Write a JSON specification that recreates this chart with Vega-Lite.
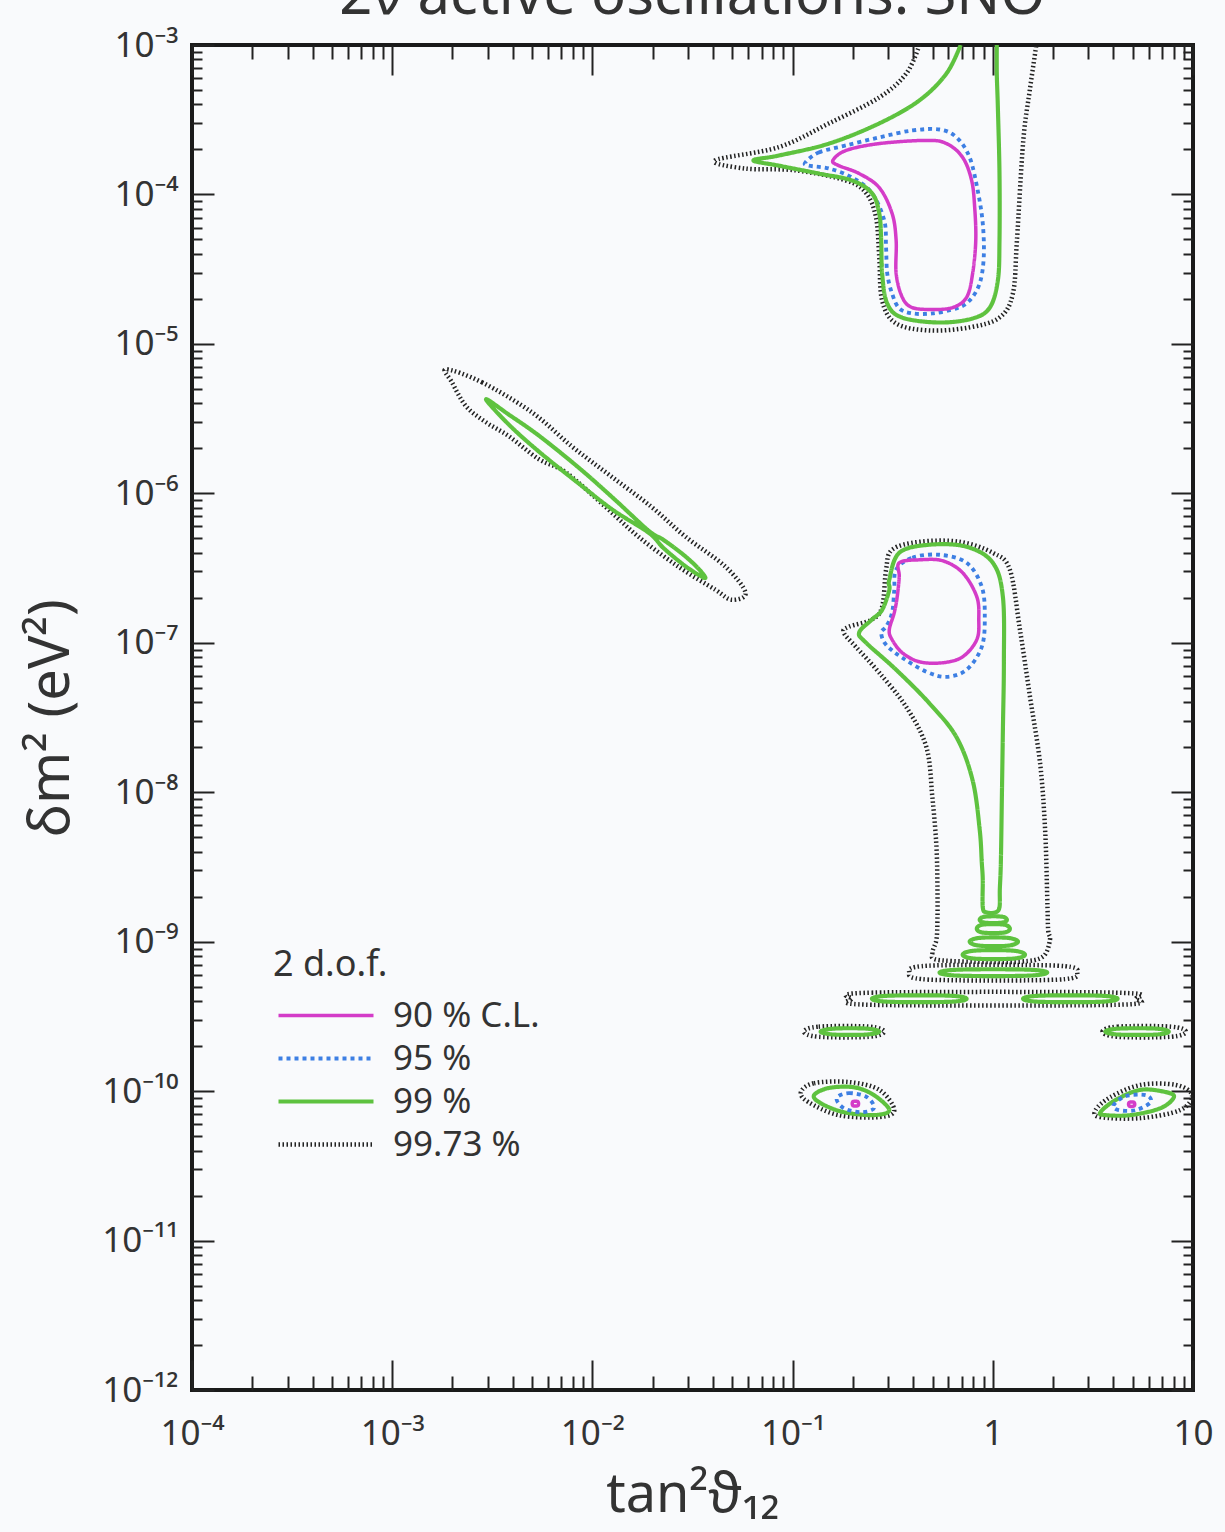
{
  "$schema": "https://vega.github.io/schema/vega-lite/v6.json",
  "width": 1001,
  "height": 1345,
  "autosize": {"type": "none"},
  "padding": {"left": 192, "top": 45, "right": 32, "bottom": 142},
  "background": "#f9fafc",
  "title": {"text": "2ν active oscillations: SNO", "fontSize": 58, "font": "Noto Sans", "fontWeight": "normal", "color": "#333333", "baseline": "alphabetic", "offset": -44, "anchor": "middle", "frame": "group"},
  "config": {"view": {"stroke": "#1a1a1a", "strokeWidth": 4}, "font": "Noto Sans"},
  "datasets": {
    "loops": [
      {"c":"k_mid","l":"99.73 %","o":1,"x":0.314,"y":4.19e-7},
      {"c":"k_mid","l":"99.73 %","o":2,"x":0.430,"y":4.74e-7},
      {"c":"k_mid","l":"99.73 %","o":3,"x":0.682,"y":4.74e-7},
      {"c":"k_mid","l":"99.73 %","o":4,"x":1.0,"y":4.00e-7},
      {"c":"k_mid","l":"99.73 %","o":5,"x":1.217,"y":3.08e-7},
      {"c":"k_mid","l":"99.73 %","o":6,"x":1.367,"y":1.22e-7},
      {"c":"k_mid","l":"99.73 %","o":7,"x":1.534,"y":4.35e-8},
      {"c":"k_mid","l":"99.73 %","o":8,"x":1.723,"y":1.56e-8},
      {"c":"k_mid","l":"99.73 %","o":9,"x":1.825,"y":5.62e-9},
      {"c":"k_mid","l":"99.73 %","o":10,"x":1.87,"y":2.00e-9},
      {"c":"k_mid","l":"99.73 %","o":11,"x":1.89,"y":1.20e-9},
      {"c":"k_mid","l":"99.73 %","o":12,"x":1.93,"y":1.03e-9},
      {"c":"k_mid","l":"99.73 %","o":13,"x":1.78,"y":7.94e-10},
      {"c":"k_mid","l":"99.73 %","o":14,"x":1.37,"y":7.35e-10},
      {"c":"k_mid","l":"99.73 %","o":15,"x":0.80,"y":7.35e-10},
      {"c":"k_mid","l":"99.73 %","o":16,"x":0.523,"y":7.58e-10},
      {"c":"k_mid","l":"99.73 %","o":17,"x":0.499,"y":8.44e-10},
      {"c":"k_mid","l":"99.73 %","o":18,"x":0.523,"y":1.03e-9},
      {"c":"k_mid","l":"99.73 %","o":19,"x":0.529,"y":1.40e-9},
      {"c":"k_mid","l":"99.73 %","o":20,"x":0.529,"y":2.23e-9},
      {"c":"k_mid","l":"99.73 %","o":21,"x":0.523,"y":4.32e-9},
      {"c":"k_mid","l":"99.73 %","o":22,"x":0.499,"y":9.26e-9},
      {"c":"k_mid","l":"99.73 %","o":23,"x":0.466,"y":2.00e-8},
      {"c":"k_mid","l":"99.73 %","o":24,"x":0.370,"y":3.71e-8},
      {"c":"k_mid","l":"99.73 %","o":25,"x":0.271,"y":6.30e-8},
      {"c":"k_mid","l":"99.73 %","o":26,"x":0.207,"y":9.40e-8},
      {"c":"k_mid","l":"99.73 %","o":27,"x":0.180,"y":1.17e-7},
      {"c":"k_mid","l":"99.73 %","o":28,"x":0.191,"y":1.28e-7},
      {"c":"k_mid","l":"99.73 %","o":29,"x":0.249,"y":1.43e-7},
      {"c":"k_mid","l":"99.73 %","o":30,"x":0.280,"y":1.74e-7},
      {"c":"k_mid","l":"99.73 %","o":31,"x":0.293,"y":3.08e-7},

      {"c":"k_low","l":"99.73 %","o":1,"x":1.86e-3,"y":6.76e-6},
      {"c":"k_low","l":"99.73 %","o":2,"x":2.81e-3,"y":5.53e-6},
      {"c":"k_low","l":"99.73 %","o":3,"x":4.99e-3,"y":3.48e-6},
      {"c":"k_low","l":"99.73 %","o":4,"x":7.90e-3,"y":2.06e-6},
      {"c":"k_low","l":"99.73 %","o":5,"x":1.24e-2,"y":1.30e-6},
      {"c":"k_low","l":"99.73 %","o":6,"x":1.97e-2,"y":8.13e-7},
      {"c":"k_low","l":"99.73 %","o":7,"x":2.92e-2,"y":5.12e-7},
      {"c":"k_low","l":"99.73 %","o":8,"x":4.62e-2,"y":3.23e-7},
      {"c":"k_low","l":"99.73 %","o":9,"x":5.82e-2,"y":2.16e-7},
      {"c":"k_low","l":"99.73 %","o":10,"x":4.95e-2,"y":1.94e-7},
      {"c":"k_low","l":"99.73 %","o":11,"x":4.12e-2,"y":2.26e-7},
      {"c":"k_low","l":"99.73 %","o":12,"x":2.69e-2,"y":3.23e-7},
      {"c":"k_low","l":"99.73 %","o":13,"x":1.70e-2,"y":5.12e-7},
      {"c":"k_low","l":"99.73 %","o":14,"x":1.16e-2,"y":8.13e-7},
      {"c":"k_low","l":"99.73 %","o":15,"x":7.38e-3,"y":1.38e-6},
      {"c":"k_low","l":"99.73 %","o":16,"x":5.41e-3,"y":1.69e-6},
      {"c":"k_low","l":"99.73 %","o":17,"x":3.83e-3,"y":2.41e-6},
      {"c":"k_low","l":"99.73 %","o":18,"x":2.94e-3,"y":2.99e-6},
      {"c":"k_low","l":"99.73 %","o":19,"x":2.34e-3,"y":3.82e-6},
      {"c":"k_low","l":"99.73 %","o":20,"x":1.99e-3,"y":5.53e-6},

      {"c":"k_b1","l":"99.73 %","o":1,"x":0.383,"y":6.21e-10},
      {"c":"k_b1","l":"99.73 %","o":2,"x":0.482,"y":6.91e-10},
      {"c":"k_b1","l":"99.73 %","o":3,"x":2.10,"y":6.91e-10},
      {"c":"k_b1","l":"99.73 %","o":4,"x":2.64,"y":6.21e-10},
      {"c":"k_b1","l":"99.73 %","o":5,"x":2.10,"y":5.57e-10},
      {"c":"k_b1","l":"99.73 %","o":6,"x":0.482,"y":5.57e-10},

      {"c":"k_b2","l":"99.73 %","o":1,"x":0.198,"y":4.15e-10},
      {"c":"k_b2","l":"99.73 %","o":2,"x":0.249,"y":4.56e-10},
      {"c":"k_b2","l":"99.73 %","o":3,"x":4.10,"y":4.56e-10},
      {"c":"k_b2","l":"99.73 %","o":4,"x":5.17,"y":4.15e-10},
      {"c":"k_b2","l":"99.73 %","o":5,"x":4.10,"y":3.78e-10},
      {"c":"k_b2","l":"99.73 %","o":6,"x":0.249,"y":3.78e-10},

      {"c":"k_b3l","l":"99.73 %","o":1,"x":0.114,"y":2.50e-10},
      {"c":"k_b3l","l":"99.73 %","o":2,"x":0.135,"y":2.70e-10},
      {"c":"k_b3l","l":"99.73 %","o":3,"x":0.241,"y":2.70e-10},
      {"c":"k_b3l","l":"99.73 %","o":4,"x":0.287,"y":2.50e-10},
      {"c":"k_b3l","l":"99.73 %","o":5,"x":0.241,"y":2.31e-10},
      {"c":"k_b3l","l":"99.73 %","o":6,"x":0.135,"y":2.31e-10},

      {"c":"k_b3r","l":"99.73 %","o":1,"x":3.53,"y":2.50e-10},
      {"c":"k_b3r","l":"99.73 %","o":2,"x":4.20,"y":2.70e-10},
      {"c":"k_b3r","l":"99.73 %","o":3,"x":7.75,"y":2.70e-10},
      {"c":"k_b3r","l":"99.73 %","o":4,"x":9.22,"y":2.50e-10},
      {"c":"k_b3r","l":"99.73 %","o":5,"x":7.75,"y":2.31e-10},
      {"c":"k_b3r","l":"99.73 %","o":6,"x":4.20,"y":2.31e-10},

      {"c":"k_b4l","l":"99.73 %","o":1,"x":0.110,"y":9.85e-11},
      {"c":"k_b4l","l":"99.73 %","o":2,"x":0.128,"y":1.13e-10},
      {"c":"k_b4l","l":"99.73 %","o":3,"x":0.191,"y":1.15e-10},
      {"c":"k_b4l","l":"99.73 %","o":4,"x":0.271,"y":1.02e-10},
      {"c":"k_b4l","l":"99.73 %","o":5,"x":0.322,"y":7.46e-11},
      {"c":"k_b4l","l":"99.73 %","o":6,"x":0.271,"y":6.70e-11},
      {"c":"k_b4l","l":"99.73 %","o":7,"x":0.170,"y":6.91e-11},
      {"c":"k_b4l","l":"99.73 %","o":8,"x":0.120,"y":8.44e-11},

      {"c":"k_b4r","l":"99.73 %","o":1,"x":3.26,"y":7.46e-11},
      {"c":"k_b4r","l":"99.73 %","o":2,"x":3.87,"y":9.12e-11},
      {"c":"k_b4r","l":"99.73 %","o":3,"x":5.48,"y":1.10e-10},
      {"c":"k_b4r","l":"99.73 %","o":4,"x":8.22,"y":1.10e-10},
      {"c":"k_b4r","l":"99.73 %","o":5,"x":9.89,"y":9.40e-11},
      {"c":"k_b4r","l":"99.73 %","o":6,"x":8.61,"y":7.46e-11},
      {"c":"k_b4r","l":"99.73 %","o":7,"x":5.48,"y":6.60e-11},
      {"c":"k_b4r","l":"99.73 %","o":8,"x":3.45,"y":6.70e-11},

      {"c":"g_mid","l":"99 %","o":1,"x":0.304,"y":2.64e-7},
      {"c":"g_mid","l":"99 %","o":2,"x":0.341,"y":4.00e-7},
      {"c":"g_mid","l":"99 %","o":3,"x":0.482,"y":4.53e-7},
      {"c":"g_mid","l":"99 %","o":4,"x":0.740,"y":4.39e-7},
      {"c":"g_mid","l":"99 %","o":5,"x":1.0,"y":3.43e-7},
      {"c":"g_mid","l":"99 %","o":6,"x":1.123,"y":2.03e-7},
      {"c":"g_mid","l":"99 %","o":7,"x":1.136,"y":7.35e-8},
      {"c":"g_mid","l":"99 %","o":8,"x":1.123,"y":2.60e-8},
      {"c":"g_mid","l":"99 %","o":9,"x":1.110,"y":9.26e-9},
      {"c":"g_mid","l":"99 %","o":10,"x":1.097,"y":3.38e-9},
      {"c":"g_mid","l":"99 %","o":11,"x":1.084,"y":2.23e-9},
      {"c":"g_mid","l":"99 %","o":12,"x":1.08,"y":1.70e-9},
      {"c":"g_mid","l":"99 %","o":13,"x":1.03,"y":1.57e-9},
      {"c":"g_mid","l":"99 %","o":14,"x":0.93,"y":1.57e-9},
      {"c":"g_mid","l":"99 %","o":15,"x":0.891,"y":1.70e-9},
      {"c":"g_mid","l":"99 %","o":16,"x":0.891,"y":2.60e-9},
      {"c":"g_mid","l":"99 %","o":17,"x":0.881,"y":3.38e-9},
      {"c":"g_mid","l":"99 %","o":18,"x":0.860,"y":5.62e-9},
      {"c":"g_mid","l":"99 %","o":19,"x":0.793,"y":1.20e-8},
      {"c":"g_mid","l":"99 %","o":20,"x":0.659,"y":2.33e-8},
      {"c":"g_mid","l":"99 %","o":21,"x":0.482,"y":3.94e-8},
      {"c":"g_mid","l":"99 %","o":22,"x":0.329,"y":6.60e-8},
      {"c":"g_mid","l":"99 %","o":23,"x":0.233,"y":1.00e-7},
      {"c":"g_mid","l":"99 %","o":24,"x":0.215,"y":1.17e-7},
      {"c":"g_mid","l":"99 %","o":25,"x":0.249,"y":1.43e-7},
      {"c":"g_mid","l":"99 %","o":26,"x":0.280,"y":1.66e-7},
      {"c":"g_mid","l":"99 %","o":27,"x":0.304,"y":2.26e-7},

      {"c":"g_low","l":"99 %","o":1,"x":2.94e-3,"y":4.26e-6},
      {"c":"g_low","l":"99 %","o":2,"x":3.83e-3,"y":3.36e-6},
      {"c":"g_low","l":"99 %","o":3,"x":5.41e-3,"y":2.43e-6},
      {"c":"g_low","l":"99 %","o":4,"x":8.57e-3,"y":1.48e-6},
      {"c":"g_low","l":"99 %","o":5,"x":1.27e-2,"y":9.29e-7},
      {"c":"g_low","l":"99 %","o":6,"x":1.91e-2,"y":5.62e-7},
      {"c":"g_low","l":"99 %","o":7,"x":2.26e-2,"y":4.89e-7},
      {"c":"g_low","l":"99 %","o":8,"x":2.85e-2,"y":3.88e-7},
      {"c":"g_low","l":"99 %","o":9,"x":3.39e-2,"y":3.13e-7},
      {"c":"g_low","l":"99 %","o":10,"x":3.67e-2,"y":2.72e-7},
      {"c":"g_low","l":"99 %","o":11,"x":3.39e-2,"y":2.85e-7},
      {"c":"g_low","l":"99 %","o":12,"x":2.85e-2,"y":3.33e-7},
      {"c":"g_low","l":"99 %","o":13,"x":2.26e-2,"y":4.32e-7},
      {"c":"g_low","l":"99 %","o":14,"x":1.91e-2,"y":5.45e-7},
      {"c":"g_low","l":"99 %","o":15,"x":1.27e-2,"y":7.72e-7},
      {"c":"g_low","l":"99 %","o":16,"x":8.57e-3,"y":1.16e-6},
      {"c":"g_low","l":"99 %","o":17,"x":5.41e-3,"y":1.90e-6},
      {"c":"g_low","l":"99 %","o":18,"x":3.83e-3,"y":2.88e-6},

      {"c":"g_e1","l":"99 %","o":1,"x":0.860,"y":1.40e-9},
      {"c":"g_e1","l":"99 %","o":2,"x":0.912,"y":1.47e-9},
      {"c":"g_e1","l":"99 %","o":3,"x":1.110,"y":1.47e-9},
      {"c":"g_e1","l":"99 %","o":4,"x":1.176,"y":1.40e-9},
      {"c":"g_e1","l":"99 %","o":5,"x":1.110,"y":1.34e-9},
      {"c":"g_e1","l":"99 %","o":6,"x":0.912,"y":1.34e-9},

      {"c":"g_e2","l":"99 %","o":1,"x":0.832,"y":1.22e-9},
      {"c":"g_e2","l":"99 %","o":2,"x":0.891,"y":1.30e-9},
      {"c":"g_e2","l":"99 %","o":3,"x":1.136,"y":1.30e-9},
      {"c":"g_e2","l":"99 %","o":4,"x":1.217,"y":1.22e-9},
      {"c":"g_e2","l":"99 %","o":5,"x":1.136,"y":1.15e-9},
      {"c":"g_e2","l":"99 %","o":6,"x":0.891,"y":1.15e-9},

      {"c":"g_e3","l":"99 %","o":1,"x":0.766,"y":1.0e-9},
      {"c":"g_e3","l":"99 %","o":2,"x":0.860,"y":1.06e-9},
      {"c":"g_e3","l":"99 %","o":3,"x":1.19,"y":1.06e-9},
      {"c":"g_e3","l":"99 %","o":4,"x":1.336,"y":1.0e-9},
      {"c":"g_e3","l":"99 %","o":5,"x":1.19,"y":9.40e-10},
      {"c":"g_e3","l":"99 %","o":6,"x":0.860,"y":9.40e-10},

      {"c":"g_e4","l":"99 %","o":1,"x":0.707,"y":8.18e-10},
      {"c":"g_e4","l":"99 %","o":2,"x":0.812,"y":8.71e-10},
      {"c":"g_e4","l":"99 %","o":3,"x":1.26,"y":8.71e-10},
      {"c":"g_e4","l":"99 %","o":4,"x":1.448,"y":8.18e-10},
      {"c":"g_e4","l":"99 %","o":5,"x":1.26,"y":7.70e-10},
      {"c":"g_e4","l":"99 %","o":6,"x":0.812,"y":7.70e-10},

      {"c":"g_b1","l":"99 %","o":1,"x":0.542,"y":6.21e-10},
      {"c":"g_b1","l":"99 %","o":2,"x":0.682,"y":6.50e-10},
      {"c":"g_b1","l":"99 %","o":3,"x":1.48,"y":6.50e-10},
      {"c":"g_b1","l":"99 %","o":4,"x":1.87,"y":6.21e-10},
      {"c":"g_b1","l":"99 %","o":5,"x":1.48,"y":5.92e-10},
      {"c":"g_b1","l":"99 %","o":6,"x":0.682,"y":5.92e-10},

      {"c":"g_b2l","l":"99 %","o":1,"x":0.249,"y":4.15e-10},
      {"c":"g_b2l","l":"99 %","o":2,"x":0.304,"y":4.35e-10},
      {"c":"g_b2l","l":"99 %","o":3,"x":0.608,"y":4.35e-10},
      {"c":"g_b2l","l":"99 %","o":4,"x":0.740,"y":4.15e-10},
      {"c":"g_b2l","l":"99 %","o":5,"x":0.608,"y":3.96e-10},
      {"c":"g_b2l","l":"99 %","o":6,"x":0.304,"y":3.96e-10},

      {"c":"g_b2r","l":"99 %","o":1,"x":1.416,"y":4.15e-10},
      {"c":"g_b2r","l":"99 %","o":2,"x":1.72,"y":4.35e-10},
      {"c":"g_b2r","l":"99 %","o":3,"x":3.45,"y":4.35e-10},
      {"c":"g_b2r","l":"99 %","o":4,"x":4.20,"y":4.15e-10},
      {"c":"g_b2r","l":"99 %","o":5,"x":3.45,"y":3.96e-10},
      {"c":"g_b2r","l":"99 %","o":6,"x":1.72,"y":3.96e-10},

      {"c":"g_b3l","l":"99 %","o":1,"x":0.138,"y":2.50e-10},
      {"c":"g_b3l","l":"99 %","o":2,"x":0.161,"y":2.62e-10},
      {"c":"g_b3l","l":"99 %","o":3,"x":0.233,"y":2.62e-10},
      {"c":"g_b3l","l":"99 %","o":4,"x":0.271,"y":2.50e-10},
      {"c":"g_b3l","l":"99 %","o":5,"x":0.233,"y":2.39e-10},
      {"c":"g_b3l","l":"99 %","o":6,"x":0.161,"y":2.39e-10},

      {"c":"g_b3r","l":"99 %","o":1,"x":3.65,"y":2.50e-10},
      {"c":"g_b3r","l":"99 %","o":2,"x":4.25,"y":2.62e-10},
      {"c":"g_b3r","l":"99 %","o":3,"x":6.52,"y":2.62e-10},
      {"c":"g_b3r","l":"99 %","o":4,"x":7.57,"y":2.50e-10},
      {"c":"g_b3r","l":"99 %","o":5,"x":6.52,"y":2.39e-10},
      {"c":"g_b3r","l":"99 %","o":6,"x":4.25,"y":2.39e-10},

      {"c":"g_b4l","l":"99 %","o":1,"x":0.128,"y":9.40e-11},
      {"c":"g_b4l","l":"99 %","o":2,"x":0.152,"y":1.05e-10},
      {"c":"g_b4l","l":"99 %","o":3,"x":0.203,"y":1.06e-10},
      {"c":"g_b4l","l":"99 %","o":4,"x":0.255,"y":9.40e-11},
      {"c":"g_b4l","l":"99 %","o":5,"x":0.304,"y":7.46e-11},
      {"c":"g_b4l","l":"99 %","o":6,"x":0.255,"y":6.91e-11},
      {"c":"g_b4l","l":"99 %","o":7,"x":0.180,"y":7.23e-11},
      {"c":"g_b4l","l":"99 %","o":8,"x":0.138,"y":8.31e-11},

      {"c":"g_b4r","l":"99 %","o":1,"x":3.45,"y":7.23e-11},
      {"c":"g_b4r","l":"99 %","o":2,"x":4.10,"y":8.71e-11},
      {"c":"g_b4r","l":"99 %","o":3,"x":5.48,"y":1.02e-10},
      {"c":"g_b4r","l":"99 %","o":4,"x":7.32,"y":9.85e-11},
      {"c":"g_b4r","l":"99 %","o":5,"x":8.03,"y":9.12e-11},
      {"c":"g_b4r","l":"99 %","o":6,"x":6.90,"y":7.70e-11},
      {"c":"g_b4r","l":"99 %","o":7,"x":4.88,"y":6.91e-11},
      {"c":"g_b4r","l":"99 %","o":8,"x":3.65,"y":6.91e-11},

      {"c":"b_top","l":"95 %","o":1,"x":0.116,"y":1.64e-4},
      {"c":"b_top","l":"95 %","o":2,"x":0.135,"y":1.91e-4},
      {"c":"b_top","l":"95 %","o":3,"x":0.185,"y":2.13e-4},
      {"c":"b_top","l":"95 %","o":4,"x":0.271,"y":2.41e-4},
      {"c":"b_top","l":"95 %","o":5,"x":0.396,"y":2.68e-4},
      {"c":"b_top","l":"95 %","o":6,"x":0.542,"y":2.72e-4},
      {"c":"b_top","l":"95 %","o":7,"x":0.659,"y":2.41e-4},
      {"c":"b_top","l":"95 %","o":8,"x":0.766,"y":1.77e-4},
      {"c":"b_top","l":"95 %","o":9,"x":0.841,"y":1.06e-4},
      {"c":"b_top","l":"95 %","o":10,"x":0.891,"y":6.40e-5},
      {"c":"b_top","l":"95 %","o":11,"x":0.901,"y":3.79e-5},
      {"c":"b_top","l":"95 %","o":12,"x":0.860,"y":2.54e-5},
      {"c":"b_top","l":"95 %","o":13,"x":0.766,"y":1.95e-5},
      {"c":"b_top","l":"95 %","o":14,"x":0.659,"y":1.73e-5},
      {"c":"b_top","l":"95 %","o":15,"x":0.499,"y":1.60e-5},
      {"c":"b_top","l":"95 %","o":16,"x":0.396,"y":1.60e-5},
      {"c":"b_top","l":"95 %","o":17,"x":0.341,"y":1.73e-5},
      {"c":"b_top","l":"95 %","o":18,"x":0.314,"y":2.17e-5},
      {"c":"b_top","l":"95 %","o":19,"x":0.297,"y":2.96e-5},
      {"c":"b_top","l":"95 %","o":20,"x":0.293,"y":4.42e-5},
      {"c":"b_top","l":"95 %","o":21,"x":0.287,"y":6.70e-5},
      {"c":"b_top","l":"95 %","o":22,"x":0.249,"y":1.02e-4},
      {"c":"b_top","l":"95 %","o":23,"x":0.198,"y":1.30e-4},
      {"c":"b_top","l":"95 %","o":24,"x":0.152,"y":1.49e-4},
      {"c":"b_top","l":"95 %","o":25,"x":0.120,"y":1.56e-4},

      {"c":"b_mid","l":"95 %","o":1,"x":0.329,"y":3.08e-7},
      {"c":"b_mid","l":"95 %","o":2,"x":0.396,"y":3.71e-7},
      {"c":"b_mid","l":"95 %","o":3,"x":0.542,"y":3.88e-7},
      {"c":"b_mid","l":"95 %","o":4,"x":0.740,"y":3.43e-7},
      {"c":"b_mid","l":"95 %","o":5,"x":0.881,"y":2.37e-7},
      {"c":"b_mid","l":"95 %","o":6,"x":0.912,"y":1.49e-7},
      {"c":"b_mid","l":"95 %","o":7,"x":0.881,"y":9.40e-8},
      {"c":"b_mid","l":"95 %","o":8,"x":0.740,"y":6.60e-8},
      {"c":"b_mid","l":"95 %","o":9,"x":0.587,"y":5.92e-8},
      {"c":"b_mid","l":"95 %","o":10,"x":0.466,"y":6.40e-8},
      {"c":"b_mid","l":"95 %","o":11,"x":0.353,"y":7.94e-8},
      {"c":"b_mid","l":"95 %","o":12,"x":0.293,"y":9.70e-8},
      {"c":"b_mid","l":"95 %","o":13,"x":0.277,"y":1.17e-7},
      {"c":"b_mid","l":"95 %","o":14,"x":0.293,"y":1.28e-7},
      {"c":"b_mid","l":"95 %","o":15,"x":0.314,"y":1.59e-7},
      {"c":"b_mid","l":"95 %","o":16,"x":0.322,"y":2.26e-7},

      {"c":"b_b4l","l":"95 %","o":1,"x":0.166,"y":8.98e-11},
      {"c":"b_b4l","l":"95 %","o":2,"x":0.191,"y":9.70e-11},
      {"c":"b_b4l","l":"95 %","o":3,"x":0.235,"y":9.12e-11},
      {"c":"b_b4l","l":"95 %","o":4,"x":0.255,"y":7.70e-11},
      {"c":"b_b4l","l":"95 %","o":5,"x":0.220,"y":7.23e-11},
      {"c":"b_b4l","l":"95 %","o":6,"x":0.180,"y":7.70e-11},

      {"c":"b_b4r","l":"95 %","o":1,"x":4.01,"y":8.06e-11},
      {"c":"b_b4r","l":"95 %","o":2,"x":4.61,"y":9.26e-11},
      {"c":"b_b4r","l":"95 %","o":3,"x":5.81,"y":9.40e-11},
      {"c":"b_b4r","l":"95 %","o":4,"x":6.15,"y":8.44e-11},
      {"c":"b_b4r","l":"95 %","o":5,"x":5.17,"y":7.46e-11},
      {"c":"b_b4r","l":"95 %","o":6,"x":4.25,"y":7.46e-11},

      {"c":"m_top","l":"90 %  C.L.","o":1,"x":0.159,"y":1.69e-4},
      {"c":"m_top","l":"90 %  C.L.","o":2,"x":0.185,"y":1.97e-4},
      {"c":"m_top","l":"90 %  C.L.","o":3,"x":0.271,"y":2.19e-4},
      {"c":"m_top","l":"90 %  C.L.","o":4,"x":0.466,"y":2.30e-4},
      {"c":"m_top","l":"90 %  C.L.","o":5,"x":0.587,"y":2.19e-4},
      {"c":"m_top","l":"90 %  C.L.","o":6,"x":0.707,"y":1.77e-4},
      {"c":"m_top","l":"90 %  C.L.","o":7,"x":0.784,"y":1.24e-4},
      {"c":"m_top","l":"90 %  C.L.","o":8,"x":0.812,"y":8.18e-5},
      {"c":"m_top","l":"90 %  C.L.","o":9,"x":0.822,"y":4.92e-5},
      {"c":"m_top","l":"90 %  C.L.","o":10,"x":0.793,"y":2.96e-5},
      {"c":"m_top","l":"90 %  C.L.","o":11,"x":0.740,"y":2.05e-5},
      {"c":"m_top","l":"90 %  C.L.","o":12,"x":0.630,"y":1.75e-5},
      {"c":"m_top","l":"90 %  C.L.","o":13,"x":0.499,"y":1.70e-5},
      {"c":"m_top","l":"90 %  C.L.","o":14,"x":0.396,"y":1.75e-5},
      {"c":"m_top","l":"90 %  C.L.","o":15,"x":0.353,"y":2.05e-5},
      {"c":"m_top","l":"90 %  C.L.","o":16,"x":0.329,"y":2.96e-5},
      {"c":"m_top","l":"90 %  C.L.","o":17,"x":0.329,"y":4.92e-5},
      {"c":"m_top","l":"90 %  C.L.","o":18,"x":0.314,"y":7.46e-5},
      {"c":"m_top","l":"90 %  C.L.","o":19,"x":0.271,"y":1.11e-4},
      {"c":"m_top","l":"90 %  C.L.","o":20,"x":0.215,"y":1.38e-4},
      {"c":"m_top","l":"90 %  C.L.","o":21,"x":0.170,"y":1.56e-4},

      {"c":"m_mid","l":"90 %  C.L.","o":1,"x":0.341,"y":3.43e-7},
      {"c":"m_mid","l":"90 %  C.L.","o":2,"x":0.430,"y":3.59e-7},
      {"c":"m_mid","l":"90 %  C.L.","o":3,"x":0.561,"y":3.54e-7},
      {"c":"m_mid","l":"90 %  C.L.","o":4,"x":0.707,"y":2.94e-7},
      {"c":"m_mid","l":"90 %  C.L.","o":5,"x":0.832,"y":2.03e-7},
      {"c":"m_mid","l":"90 %  C.L.","o":6,"x":0.851,"y":1.43e-7},
      {"c":"m_mid","l":"90 %  C.L.","o":7,"x":0.832,"y":1.05e-7},
      {"c":"m_mid","l":"90 %  C.L.","o":8,"x":0.707,"y":8.06e-8},
      {"c":"m_mid","l":"90 %  C.L.","o":9,"x":0.561,"y":7.35e-8},
      {"c":"m_mid","l":"90 %  C.L.","o":10,"x":0.430,"y":7.46e-8},
      {"c":"m_mid","l":"90 %  C.L.","o":11,"x":0.353,"y":8.57e-8},
      {"c":"m_mid","l":"90 %  C.L.","o":12,"x":0.314,"y":1.05e-7},
      {"c":"m_mid","l":"90 %  C.L.","o":13,"x":0.304,"y":1.22e-7},
      {"c":"m_mid","l":"90 %  C.L.","o":14,"x":0.322,"y":1.59e-7},
      {"c":"m_mid","l":"90 %  C.L.","o":15,"x":0.333,"y":2.03e-7},
      {"c":"m_mid","l":"90 %  C.L.","o":16,"x":0.341,"y":2.77e-7},

      {"c":"m_b4l","l":"90 %  C.L.","o":1,"x":0.200,"y":8.5e-11},
      {"c":"m_b4l","l":"90 %  C.L.","o":2,"x":0.212,"y":8.5e-11},
      {"c":"m_b4l","l":"90 %  C.L.","o":3,"x":0.212,"y":8.0e-11},
      {"c":"m_b4l","l":"90 %  C.L.","o":4,"x":0.200,"y":8.0e-11},

      {"c":"m_b4r","l":"90 %  C.L.","o":1,"x":4.80,"y":8.4e-11},
      {"c":"m_b4r","l":"90 %  C.L.","o":2,"x":5.08,"y":8.4e-11},
      {"c":"m_b4r","l":"90 %  C.L.","o":3,"x":5.08,"y":7.95e-11},
      {"c":"m_b4r","l":"90 %  C.L.","o":4,"x":4.80,"y":7.95e-11}
    ],
    "open": [
      {"c":"k_top","l":"99.73 %","o":1,"x":0.43,"y":1e-3},
      {"c":"k_top","l":"99.73 %","o":2,"x":0.370,"y":6.45e-4},
      {"c":"k_top","l":"99.73 %","o":3,"x":0.271,"y":4.46e-4},
      {"c":"k_top","l":"99.73 %","o":4,"x":0.152,"y":2.99e-4},
      {"c":"k_top","l":"99.73 %","o":5,"x":0.0851,"y":2.07e-4},
      {"c":"k_top","l":"99.73 %","o":6,"x":0.0410,"y":1.69e-4},
      {"c":"k_top","l":"99.73 %","o":7,"x":0.0581,"y":1.49e-4},
      {"c":"k_top","l":"99.73 %","o":8,"x":0.1035,"y":1.45e-4},
      {"c":"k_top","l":"99.73 %","o":9,"x":0.185,"y":1.24e-4},
      {"c":"k_top","l":"99.73 %","o":10,"x":0.233,"y":1.02e-4},
      {"c":"k_top","l":"99.73 %","o":11,"x":0.261,"y":7.02e-5},
      {"c":"k_top","l":"99.73 %","o":12,"x":0.271,"y":3.79e-5},
      {"c":"k_top","l":"99.73 %","o":13,"x":0.280,"y":1.95e-5},
      {"c":"k_top","l":"99.73 %","o":14,"x":0.329,"y":1.37e-5},
      {"c":"k_top","l":"99.73 %","o":15,"x":0.482,"y":1.23e-5},
      {"c":"k_top","l":"99.73 %","o":16,"x":0.766,"y":1.29e-5},
      {"c":"k_top","l":"99.73 %","o":17,"x":1.08,"y":1.50e-5},
      {"c":"k_top","l":"99.73 %","o":18,"x":1.26,"y":2.17e-5},
      {"c":"k_top","l":"99.73 %","o":19,"x":1.32,"y":4.92e-5},
      {"c":"k_top","l":"99.73 %","o":20,"x":1.42,"y":2.30e-4},
      {"c":"k_top","l":"99.73 %","o":21,"x":1.53,"y":4.97e-4},
      {"c":"k_top","l":"99.73 %","o":22,"x":1.65,"y":1e-3},

      {"c":"g_top","l":"99 %","o":1,"x":0.69,"y":1e-3},
      {"c":"g_top","l":"99 %","o":2,"x":0.587,"y":6.45e-4},
      {"c":"g_top","l":"99 %","o":3,"x":0.430,"y":4.26e-4},
      {"c":"g_top","l":"99 %","o":4,"x":0.271,"y":2.99e-4},
      {"c":"g_top","l":"99 %","o":5,"x":0.152,"y":2.19e-4},
      {"c":"g_top","l":"99 %","o":6,"x":0.0851,"y":1.82e-4},
      {"c":"g_top","l":"99 %","o":7,"x":0.0637,"y":1.69e-4},
      {"c":"g_top","l":"99 %","o":8,"x":0.0851,"y":1.56e-4},
      {"c":"g_top","l":"99 %","o":9,"x":0.135,"y":1.38e-4},
      {"c":"g_top","l":"99 %","o":10,"x":0.198,"y":1.24e-4},
      {"c":"g_top","l":"99 %","o":11,"x":0.249,"y":1.02e-4},
      {"c":"g_top","l":"99 %","o":12,"x":0.271,"y":7.46e-5},
      {"c":"g_top","l":"99 %","o":13,"x":0.277,"y":4.92e-5},
      {"c":"g_top","l":"99 %","o":14,"x":0.280,"y":2.96e-5},
      {"c":"g_top","l":"99 %","o":15,"x":0.297,"y":1.86e-5},
      {"c":"g_top","l":"99 %","o":16,"x":0.353,"y":1.50e-5},
      {"c":"g_top","l":"99 %","o":17,"x":0.542,"y":1.39e-5},
      {"c":"g_top","l":"99 %","o":18,"x":0.793,"y":1.48e-5},
      {"c":"g_top","l":"99 %","o":19,"x":0.966,"y":1.75e-5},
      {"c":"g_top","l":"99 %","o":20,"x":1.06,"y":2.66e-5},
      {"c":"g_top","l":"99 %","o":21,"x":1.08,"y":4.92e-5},
      {"c":"g_top","l":"99 %","o":22,"x":1.08,"y":1.38e-4},
      {"c":"g_top","l":"99 %","o":23,"x":1.06,"y":3.82e-4},
      {"c":"g_top","l":"99 %","o":24,"x":1.047,"y":6.45e-4},
      {"c":"g_top","l":"99 %","o":25,"x":1.047,"y":1e-3}
    ]
  },
  "encoding": {
    "color": {"field": "l", "type": "nominal", "scale": {"domain": ["90 %  C.L.", "95 %", "99 %", "99.73 %"], "range": ["#d43cc8", "#3d7fe3", "#5ec23f", "#222222"]},
      "legend": {"orient": "none", "legendX": 81, "legendY": 903, "title": "2 d.o.f.", "titleFont": "Noto Sans", "titleFontSize": 36, "titleFontWeight": "normal", "titleColor": "#333333", "titlePadding": 14, "labelFont": "Noto Sans", "labelFontSize": 35, "labelColor": "#333333", "symbolType": "M0,0H19", "symbolSize": 100, "symbolOffset": -12, "labelOffset": 97, "rowPadding": 7, "padding": 0}},
    "strokeDash": {"field": "l", "type": "nominal", "scale": {"domain": ["90 %  C.L.", "95 %", "99 %", "99.73 %"], "range": [[1, 0], [4, 4], [1, 0], [1.5, 2.5]]}},
    "strokeWidth": {"field": "l", "type": "nominal", "scale": {"domain": ["90 %  C.L.", "95 %", "99 %", "99.73 %"], "range": [3.5, 4.5, 2.2, 1.8]}},
    "detail": {"field": "c", "type": "nominal"},
    "order": {"field": "o", "type": "quantitative"}
  },
  "layer": [
    {
      "data": {"name": "loops"},
      "mark": {"type": "line", "interpolate": "cardinal-closed", "clip": true},
      "encoding": {
        "x": {"field": "x", "type": "quantitative", "scale": {"type": "log", "domain": [0.0001, 10], "nice": false},
          "axis": {"orient": "bottom", "values": [0.0001,0.0002,0.0003,0.0004,0.0005,0.0006,0.0007,0.0008,0.0009,0.001,0.002,0.003,0.004,0.005,0.006,0.007,0.008,0.009,0.01,0.02,0.03,0.04,0.05,0.06,0.07,0.08,0.09,0.1,0.2,0.3,0.4,0.5,0.6,0.7,0.8,0.9,1,2,3,4,5,6,7,8,9,10],
            "labelExpr": "abs(log(datum.value)/LN10-round(log(datum.value)/LN10))<0.01 ? ['10⁻⁴','10⁻³','10⁻²','10⁻¹','1','10'][round(log(datum.value)/LN10)+4] : ''",
            "tickSize": {"condition": {"test": "abs(log(datum.value)/LN10-round(log(datum.value)/LN10))<0.01", "value": -30}, "value": -14},
            "tickWidth": 2, "tickColor": "#222222", "domain": false, "grid": false,
            "labelFont": "Noto Sans", "labelFontSize": 35, "labelColor": "#333333", "labelPadding": 56, "labelOverlap": false, "labelBound": false, "labelFlush": false, "labelBaseline": "top",
            "title": "tan²ϑ₁₂", "titleFont": "Noto Sans", "titleFontSize": 54, "titleFontWeight": "normal", "titleColor": "#333333", "titleBaseline": "alphabetic", "titleY": 121}},
        "y": {"field": "y", "type": "quantitative", "scale": {"type": "log", "domain": [1e-12, 0.001], "nice": false},
          "axis": {"orient": "left", "values": [1e-12,2e-12,3e-12,4e-12,5e-12,6e-12,7e-12,8e-12,9e-12,1e-11,2e-11,3e-11,4e-11,5e-11,6e-11,7e-11,8e-11,9e-11,1e-10,2e-10,3e-10,4e-10,5e-10,6e-10,7e-10,8e-10,9e-10,1e-9,2e-9,3e-9,4e-9,5e-9,6e-9,7e-9,8e-9,9e-9,1e-8,2e-8,3e-8,4e-8,5e-8,6e-8,7e-8,8e-8,9e-8,1e-7,2e-7,3e-7,4e-7,5e-7,6e-7,7e-7,8e-7,9e-7,1e-6,2e-6,3e-6,4e-6,5e-6,6e-6,7e-6,8e-6,9e-6,1e-5,2e-5,3e-5,4e-5,5e-5,6e-5,7e-5,8e-5,9e-5,1e-4,2e-4,3e-4,4e-4,5e-4,6e-4,7e-4,8e-4,9e-4,1e-3],
            "labelExpr": "abs(log(datum.value)/LN10-round(log(datum.value)/LN10))<0.01 ? ['10⁻¹²','10⁻¹¹','10⁻¹⁰','10⁻⁹','10⁻⁸','10⁻⁷','10⁻⁶','10⁻⁵','10⁻⁴','10⁻³'][round(log(datum.value)/LN10)+12] : ''",
            "tickSize": {"condition": {"test": "abs(log(datum.value)/LN10-round(log(datum.value)/LN10))<0.01", "value": -22}, "value": -10},
            "tickWidth": 2, "tickColor": "#222222", "domain": false, "grid": false,
            "labelFont": "Noto Sans", "labelFontSize": 35, "labelColor": "#333333", "labelPadding": 36, "labelOverlap": false, "labelBound": false, "labelFlush": false,
            "title": "δm²  (eV²)", "titleFont": "Noto Sans", "titleFontSize": 56, "titleFontWeight": "normal", "titleColor": "#333333", "titleBaseline": "alphabetic", "titleX": -124}}
      }
    },
    {
      "data": {"name": "open"},
      "mark": {"type": "line", "interpolate": "cardinal", "clip": true},
      "encoding": {
        "x": {"field": "x", "type": "quantitative", "scale": {"type": "log", "domain": [0.0001, 10], "nice": false},
          "axis": {"orient": "top", "values": [0.0001,0.0002,0.0003,0.0004,0.0005,0.0006,0.0007,0.0008,0.0009,0.001,0.002,0.003,0.004,0.005,0.006,0.007,0.008,0.009,0.01,0.02,0.03,0.04,0.05,0.06,0.07,0.08,0.09,0.1,0.2,0.3,0.4,0.5,0.6,0.7,0.8,0.9,1,2,3,4,5,6,7,8,9,10],
            "labels": false, "title": null, "domain": false, "grid": false, "tickWidth": 2, "tickColor": "#222222",
            "tickSize": {"condition": {"test": "abs(log(datum.value)/LN10-round(log(datum.value)/LN10))<0.01", "value": -30}, "value": -14}}},
        "y": {"field": "y", "type": "quantitative", "scale": {"type": "log", "domain": [1e-12, 0.001], "nice": false},
          "axis": {"orient": "right", "values": [1e-12,2e-12,3e-12,4e-12,5e-12,6e-12,7e-12,8e-12,9e-12,1e-11,2e-11,3e-11,4e-11,5e-11,6e-11,7e-11,8e-11,9e-11,1e-10,2e-10,3e-10,4e-10,5e-10,6e-10,7e-10,8e-10,9e-10,1e-9,2e-9,3e-9,4e-9,5e-9,6e-9,7e-9,8e-9,9e-9,1e-8,2e-8,3e-8,4e-8,5e-8,6e-8,7e-8,8e-8,9e-8,1e-7,2e-7,3e-7,4e-7,5e-7,6e-7,7e-7,8e-7,9e-7,1e-6,2e-6,3e-6,4e-6,5e-6,6e-6,7e-6,8e-6,9e-6,1e-5,2e-5,3e-5,4e-5,5e-5,6e-5,7e-5,8e-5,9e-5,1e-4,2e-4,3e-4,4e-4,5e-4,6e-4,7e-4,8e-4,9e-4,1e-3],
            "labels": false, "title": null, "domain": false, "grid": false, "tickWidth": 2, "tickColor": "#222222",
            "tickSize": {"condition": {"test": "abs(log(datum.value)/LN10-round(log(datum.value)/LN10))<0.01", "value": -22}, "value": -10}}}
      }
    }
  ],
  "resolve": {"axis": {"x": "independent", "y": "independent"}}
}
